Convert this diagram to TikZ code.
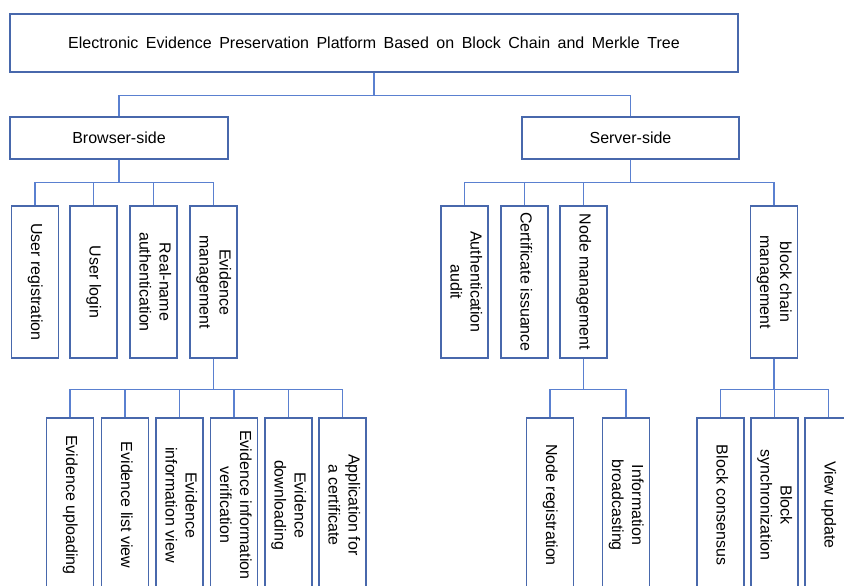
\documentclass[tikz,border=0pt]{standalone}
\usepackage{fontspec}
\setmainfont{Liberation Sans}
\usepackage{graphicx}
\usepackage{tikz}
\definecolor{boxblue}{RGB}{72,104,172}
\definecolor{linkblue}{RGB}{90,128,208}
\newcommand{\vlabel}[1]{\rotatebox{-90}{\begin{tabular}{@{}c@{}}#1\end{tabular}}}

\begin{document}
\begin{tikzpicture}[x=1pt,y=-1pt,
    hbox/.style={draw=boxblue,line width=1.3pt,inner sep=0pt,font=\fontsize{16}{19}\selectfont},
    vbox/.style={draw=boxblue,line width=1.3pt,inner sep=0pt,minimum width=47,
      font=\fontsize{16}{20}\selectfont},
    link/.style={draw=linkblue,line width=1.5pt}]
  \clip (0,0) rectangle (844,586);
  % top level
  \node[hbox,minimum width=728,minimum height=58] (plat) at (374,43)
    {\spaceskip=7.5pt Electronic Evidence Preservation Platform Based on Block Chain and Merkle Tree};
  \node[hbox,minimum width=218,minimum height=42] (browser) at (119,138) {Browser-side};
  \node[hbox,minimum width=217,minimum height=42] (server) at (630.5,138) {Server-side};
  % browser side
  \node[vbox,minimum height=152] (ureg) at (35,282) {\vlabel{User registration}};
  \node[vbox,minimum height=152] (ulog) at (93.5,282) {\vlabel{User login}};
  \node[vbox,minimum height=152] (rname) at (153.5,282) {\vlabel{Real-name\\authentication}};
  \node[vbox,minimum height=152] (evman) at (213.5,282) {\vlabel{Evidence\\management}};
  \node[vbox,minimum height=174] (evup) at (70,505) {\vlabel{Evidence uploading}};
  \node[vbox,minimum height=174] (evlist) at (125,505) {\vlabel{Evidence list view}};
  \node[vbox,minimum height=174] (evinfo) at (179.5,505) {\vlabel{Evidence\\information view}};
  \node[vbox,minimum height=174] (evver) at (234,505) {\vlabel{Evidence information\\verification}};
  \node[vbox,minimum height=174] (evdown) at (288.5,505) {\vlabel{Evidence\\downloading}};
  \node[vbox,minimum height=174] (evcert) at (342.5,505) {\vlabel{Application for\\a certificate}};
  % server side
  \node[vbox,minimum height=152] (audit) at (464.5,282) {\vlabel{Authentication\\audit}};
  \node[vbox,minimum height=152] (issue) at (524.5,282) {\vlabel{Certificate issuance}};
  \node[vbox,minimum height=152] (nodeman) at (583.5,282) {\vlabel{Node management}};
  \node[vbox,minimum height=152] (chainman) at (774,282) {\vlabel{block chain\\management}};
  \node[vbox,minimum height=174] (nodereg) at (550,505) {\vlabel{Node registration}};
  \node[vbox,minimum height=174] (broad) at (626,505) {\vlabel{Information\\broadcasting}};
  \node[vbox,minimum height=174] (consens) at (720.5,505) {\vlabel{Block consensus}};
  \node[vbox,minimum height=174] (sync) at (774.5,505) {\vlabel{Block\\synchronization}};
  \node[vbox,minimum height=174] (viewup) at (828.5,505) {\vlabel{View update}};
  % connectors
  \foreach \c in {browser,server}
    \draw[link] (plat.south) -- ++(0,23) -| (\c.north);
  \foreach \c in {ureg,ulog,rname,evman}
    \draw[link] (browser.south) -- ++(0,23) -| (\c.north);
  \foreach \c in {audit,issue,nodeman,chainman}
    \draw[link] (server.south) -- ++(0,23) -| (\c.north);
  \foreach \c in {evup,evlist,evinfo,evver,evdown,evcert}
    \draw[link] (evman.south) -- ++(0,31) -| (\c.north);
  \foreach \c in {nodereg,broad}
    \draw[link] (nodeman.south) -- ++(0,31) -| (\c.north);
  \foreach \c in {consens,sync,viewup}
    \draw[link] (chainman.south) -- ++(0,31) -| (\c.north);
\end{tikzpicture}
\end{document}
